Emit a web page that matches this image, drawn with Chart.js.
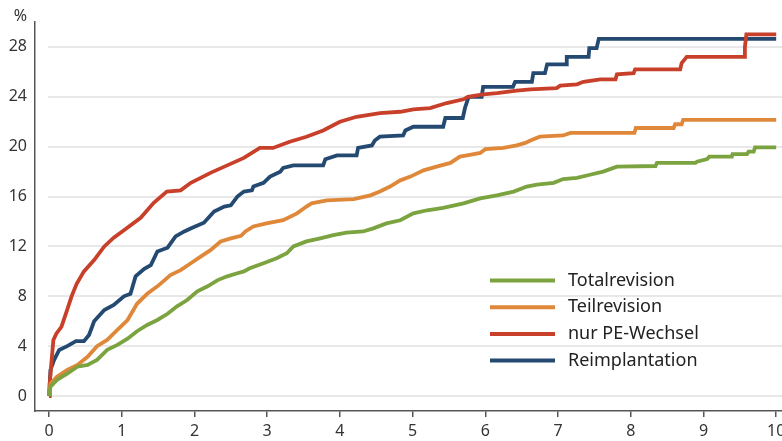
<!DOCTYPE html>
<html>
<head>
<meta charset="utf-8">
<script src="https://cdn.jsdelivr.net/npm/chart.js@4"></script>
<style>
  html, body { margin: 0; padding: 0; background: #fff; }
  #wrap { width: 782px; height: 441px; position: relative; }
</style>
</head>
<body>
<div id="wrap"><canvas id="chart"></canvas></div>
<script>
const seriesLabels = ['Totalrevision', 'Teilrevision', 'nur PE-Wechsel', 'Reimplantation'];
const seriesColors = ['#7ba33f', '#e0883a', '#c8402a', '#244a72'];

const xTicks = [0, 1, 2, 3, 4, 5, 6, 7, 8, 9, 10];
const yTicks = [0, 4, 8, 12, 16, 20, 24, 28];

// Totalrevision
const totalX = [0, 0.02, 0.11, 0.25, 0.39, 0.53, 0.66, 0.80, 0.94, 1.08, 1.21, 1.35, 1.49, 1.63, 1.76, 1.90, 2.04, 2.18, 2.32, 2.45, 2.59, 2.68, 2.76, 2.95, 3.13, 3.27, 3.36, 3.54, 3.73, 3.91, 4.09, 4.32, 4.46, 4.64, 4.83, 5.01, 5.20, 5.42, 5.70, 5.93, 6.16, 6.39, 6.57, 6.71, 6.94, 7.07, 7.26, 7.44, 7.62, 7.81, 8.34, 8.36, 8.89, 8.91, 9.05, 9.08, 9.39, 9.40, 9.60, 9.62, 9.69, 9.71, 10];
const totalY = [0, 0.75, 1.3, 1.8, 2.35, 2.5, 2.9, 3.7, 4.1, 4.6, 5.2, 5.7, 6.1, 6.6, 7.2, 7.7, 8.4, 8.8, 9.3, 9.6, 9.85, 10.0, 10.25, 10.65, 11.05, 11.45, 12.0, 12.4, 12.65, 12.9, 13.1, 13.2, 13.45, 13.85, 14.1, 14.65, 14.9, 15.1, 15.45, 15.85, 16.1, 16.4, 16.8, 16.95, 17.1, 17.4, 17.5, 17.75, 18.0, 18.4, 18.45, 18.7, 18.7, 18.8, 19.0, 19.2, 19.2, 19.4, 19.4, 19.6, 19.6, 19.95, 19.95];

// Teilrevision
const teilX = [0, 0.02, 0.11, 0.25, 0.39, 0.53, 0.66, 0.80, 0.94, 1.08, 1.21, 1.35, 1.49, 1.67, 1.81, 1.95, 2.09, 2.22, 2.36, 2.50, 2.64, 2.70, 2.81, 2.99, 3.22, 3.41, 3.54, 3.61, 3.82, 4.19, 4.42, 4.55, 4.69, 4.83, 4.97, 5.15, 5.33, 5.52, 5.65, 5.75, 5.93, 6.00, 6.25, 6.43, 6.55, 6.62, 6.75, 7.07, 7.17, 8.05, 8.07, 8.59, 8.61, 8.70, 8.72, 10];
const teilY = [0, 1.0, 1.55, 2.1, 2.5, 3.15, 4.0, 4.5, 5.3, 6.1, 7.4, 8.2, 8.8, 9.7, 10.1, 10.65, 11.2, 11.7, 12.4, 12.65, 12.85, 13.2, 13.6, 13.85, 14.1, 14.65, 15.2, 15.45, 15.7, 15.8, 16.1, 16.4, 16.8, 17.3, 17.6, 18.1, 18.4, 18.7, 19.2, 19.3, 19.5, 19.8, 19.9, 20.1, 20.3, 20.5, 20.8, 20.9, 21.1, 21.1, 21.5, 21.5, 21.8, 21.8, 22.15, 22.15];

// nur PE-Wechsel
const peX = [0, 0.01, 0.03, 0.06, 0.10, 0.17, 0.24, 0.31, 0.38, 0.48, 0.62, 0.76, 0.89, 1.03, 1.26, 1.44, 1.62, 1.81, 1.95, 2.22, 2.45, 2.68, 2.90, 3.08, 3.31, 3.54, 3.77, 4.00, 4.23, 4.55, 4.83, 5.01, 5.24, 5.47, 5.70, 5.76, 5.97, 6.16, 6.43, 6.62, 6.98, 7.03, 7.26, 7.35, 7.58, 7.79, 7.81, 8.04, 8.06, 8.68, 8.70, 8.77, 9.56, 9.57, 9.59, 10];
const peY = [0, 1.0, 2.5, 4.5, 5.0, 5.55, 6.75, 8.0, 9.0, 10.0, 10.9, 12.0, 12.7, 13.3, 14.3, 15.5, 16.4, 16.5, 17.1, 17.9, 18.5, 19.1, 19.9, 19.9, 20.4, 20.8, 21.3, 22.0, 22.4, 22.7, 22.8, 23.0, 23.1, 23.5, 23.8, 24.0, 24.2, 24.3, 24.5, 24.6, 24.7, 24.9, 25.0, 25.2, 25.4, 25.4, 25.8, 25.9, 26.2, 26.2, 26.7, 27.2, 27.2, 28.0, 29.0, 29.0];

// Reimplantation
const reX = [0, 0.02, 0.07, 0.14, 0.25, 0.37, 0.48, 0.55, 0.62, 0.76, 0.89, 1.03, 1.12, 1.19, 1.31, 1.40, 1.49, 1.63, 1.74, 1.86, 1.97, 2.13, 2.27, 2.41, 2.50, 2.59, 2.68, 2.79, 2.81, 2.95, 3.04, 3.18, 3.22, 3.36, 3.77, 3.80, 3.96, 4.23, 4.25, 4.44, 4.48, 4.55, 4.87, 4.90, 5.01, 5.42, 5.45, 5.69, 5.72, 5.77, 5.95, 5.97, 6.38, 6.41, 6.64, 6.66, 6.82, 6.85, 7.11, 7.12, 7.42, 7.43, 7.53, 7.56, 10];
const reY = [0, 2.1, 2.9, 3.7, 4.0, 4.4, 4.4, 4.9, 6.0, 6.9, 7.3, 8.0, 8.2, 9.6, 10.2, 10.5, 11.6, 11.9, 12.8, 13.2, 13.5, 13.9, 14.8, 15.2, 15.3, 16.0, 16.4, 16.5, 16.8, 17.1, 17.6, 18.0, 18.3, 18.5, 18.5, 19.0, 19.3, 19.3, 19.9, 20.1, 20.5, 20.8, 20.9, 21.3, 21.6, 21.6, 22.3, 22.3, 23.1, 24.0, 24.0, 24.8, 24.8, 25.2, 25.2, 25.9, 25.9, 26.6, 26.6, 27.2, 27.2, 27.9, 27.9, 28.65, 28.65];

const seriesX = [totalX, teilX, peX, reX];
const seriesY = [totalY, teilY, peY, reY];

const FONT = '"Noto Sans", "Open Sans", sans-serif';

function toPoints(xs, ys) {
  return xs.map((x, i) => ({ x, y: ys[i] }));
}

// horizontal grid lines start at x = 0, not at the axis line
const gridPlugin = {
  id: 'gridLines',
  beforeDatasetsDraw(chart) {
    const { ctx, chartArea, scales } = chart;
    const x0 = scales.x.getPixelForValue(0) - 1;
    ctx.save();
    ctx.strokeStyle = '#e8e8e8';
    ctx.lineWidth = 2;
    yTicks.forEach(v => {
      const y = Math.round(scales.y.getPixelForValue(v));
      ctx.beginPath();
      ctx.moveTo(x0, y);
      ctx.lineTo(chartArea.right, y);
      ctx.stroke();
    });
    ctx.restore();
  }
};

const extrasPlugin = {
  id: 'extras',
  afterDraw(chart) {
    const { ctx, scales } = chart;
    ctx.save();
    // unit label
    ctx.fillStyle = '#333';
    ctx.font = '16px ' + FONT;
    ctx.textAlign = 'right';
    ctx.textBaseline = 'middle';
    ctx.fillText('%', scales.y.right - 8, 16);

    // legend inside the plot
    ctx.textAlign = 'left';
    chart.data.datasets.forEach((ds, i) => {
      const y = 280.5 + i * 26.7;
      ctx.strokeStyle = ds.borderColor;
      ctx.lineWidth = 4;
      ctx.beginPath();
      ctx.moveTo(490, y);
      ctx.lineTo(555, y);
      ctx.stroke();
      ctx.fillStyle = '#222';
      ctx.font = '18px ' + FONT;
      ctx.fillText(ds.label, 568, y);
    });
    ctx.restore();
  }
};

new Chart(document.getElementById('chart'), {
  type: 'line',
  data: {
    datasets: seriesLabels.map((label, i) => ({
      label,
      data: toPoints(seriesX[i], seriesY[i]),
      borderColor: seriesColors[i],
      borderWidth: 3.8,
      pointRadius: 0,
      tension: 0,
      fill: false
    }))
  },
  options: {
    responsive: true,
    maintainAspectRatio: false,
    animation: false,
    layout: { autoPadding: false, padding: { top: 22, right: 0, left: 0, bottom: 0 } },
    plugins: {
      legend: { display: false },
      tooltip: { enabled: false }
    },
    scales: {
      x: {
        type: 'linear',
        min: -0.193,
        max: 10.08,
        afterBuildTicks: scale => { scale.ticks = xTicks.map(value => ({ value })); },
        afterFit: scale => {
          scale.height = 30;
          scale.paddingLeft = 0;
          scale.paddingRight = 0;
        },
        grid: { display: true, drawOnChartArea: false, drawTicks: true, tickLength: 6, color: '#555', lineWidth: 1.5 },
        border: { display: true, color: '#555', width: 1.5 },
        ticks: { color: '#333', font: { family: FONT, size: 16 }, padding: 5, maxRotation: 0, autoSkip: false }
      },
      y: {
        type: 'linear',
        min: -1.2,
        max: 30,
        afterBuildTicks: scale => { scale.ticks = yTicks.map(value => ({ value })); },
        afterFit: scale => { scale.width = 35; },
        grid: { display: true, drawOnChartArea: false, drawTicks: false },
        border: { display: true, color: '#555', width: 1.5 },
        ticks: { color: '#333', font: { family: FONT, size: 16 }, padding: 8, autoSkip: false }
      }
    }
  },
  plugins: [gridPlugin, extrasPlugin]
});
</script>
</body>
</html>
